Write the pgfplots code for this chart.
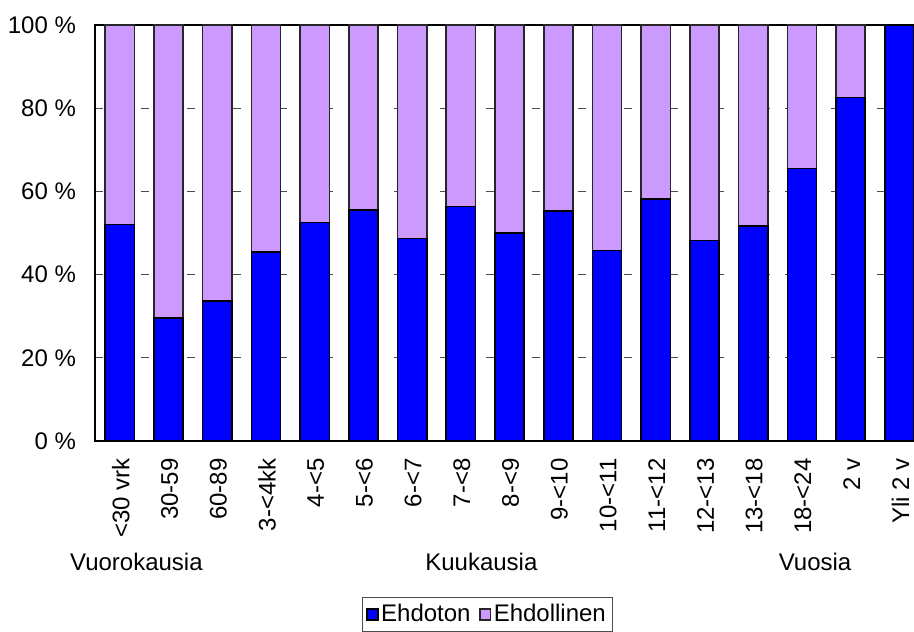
\documentclass[border=0pt]{standalone}
\usepackage{fontspec}
\setmainfont{Liberation Sans}
\usepackage{pgfplots}
\pgfplotsset{compat=1.18}
\definecolor{ehdoton}{HTML}{0000FF}
\definecolor{ehdollinen}{HTML}{CC99FF}
\begin{document}
\begin{tikzpicture}[font=\fontsize{12}{14}\selectfont]
\begin{axis}[
  name=ax,
  scale only axis,
  width=409.5pt, height=208pt,
  ybar stacked,
  bar width=14.6pt,
  xmin=-0.51, xmax=16.3,
  ymin=0, ymax=100,
  clip=false,
  xtick={0,...,16},
  xticklabels={<30 vrk,30-59,60-89,3-<4kk,4-<5,5-<6,6-<7,7-<8,8-<9,9-<10,10-<11,11-<12,12-<13,13-<18,18-<24,2 v,Yli 2 v},
  xticklabel style={rotate=90, anchor=east, inner sep=0pt, xshift=-8.5pt, yshift=-0.5pt},
  ytick={0,20,40,60,80,100},
  yticklabels={0 \%,20 \%,40 \%,60 \%,80 \%,100 \%},
  yticklabel style={xshift=-6pt},
  major tick length=0pt,
  ymajorgrids,
  major grid style={draw=black!70, dash pattern=on 4pt off 7.5pt, line width=0.6pt},
  axis line style={line width=0.8pt, black},
  legend style={at={(0.479,-0.375)}, anchor=north, legend columns=2, draw=black!70, line width=0.5pt,
    inner xsep=2pt, inner ysep=1.5pt, nodes={inner xsep=1.2pt},
    /tikz/every even column/.append style={column sep=3pt}},
  legend image code/.code={\draw[#1, line width=0.8pt] (0pt,-2.7pt) rectangle (5.4pt,2.7pt);},
  legend cell align=left,
]
\addplot[fill=ehdoton, draw=black, line width=0.8pt] coordinates {
(0,52.0) (1,29.6) (2,33.6) (3,45.5) (4,52.5) (5,55.6) (6,48.7) (7,56.4) (8,50.0)
(9,55.3) (10,45.8) (11,58.2) (12,48.2) (13,51.7) (14,65.5) (15,82.6) (16,100)};
\addlegendentry{Ehdoton}
\addplot[fill=ehdollinen, draw=black!85, line width=0.8pt] coordinates {
(0,48.0) (1,70.4) (2,66.4) (3,54.5) (4,47.5) (5,44.4) (6,51.3) (7,43.6) (8,50.0)
(9,44.7) (10,54.2) (11,41.8) (12,51.8) (13,48.3) (14,34.5) (15,17.4) (16,0)};
\addlegendentry{Ehdollinen}
\node at (axis cs:0.34,-29.1) {Vuorokausia};
\node at (axis cs:7.42,-29.1) {Kuukausia};
\node at (axis cs:14.27,-29.1) {Vuosia};
\end{axis}
\pgfresetboundingbox
\path[use as bounding box] ([xshift=-47.5pt,yshift=-95pt]ax.south west) rectangle ([yshift=12.5pt]ax.north east);
\end{tikzpicture}
\end{document}
